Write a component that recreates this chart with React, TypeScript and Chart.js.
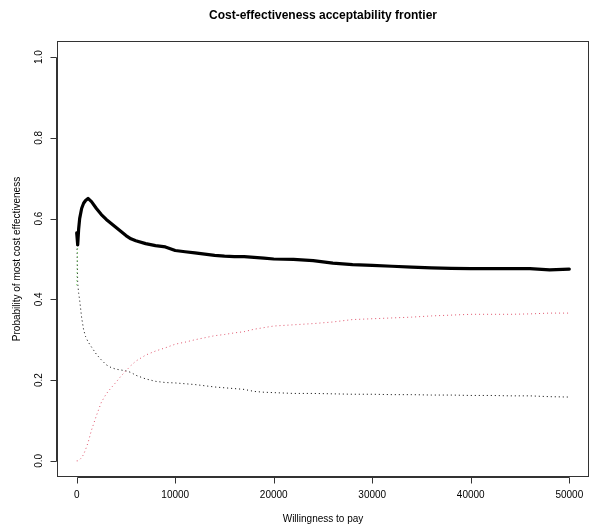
import { useEffect, useRef } from "react";
import { Chart, registerables } from "chart.js";

Chart.register(...registerables);

const wtp = [0, 100, 200, 300, 500, 700, 900, 1150, 1500, 2000, 2500, 3000, 3500, 4000, 4500, 5000, 5500, 6000, 7000, 8000, 9000, 10000, 11000, 12000, 13000, 14000, 15000, 16000, 17000, 18000, 19000, 20000, 22000, 24000, 26000, 28000, 30000, 32000, 34000, 36000, 38000, 40000, 42000, 44000, 46000, 48000, 50000];

const frontier = [0.565, 0.535, 0.575, 0.6, 0.625, 0.638, 0.645, 0.65, 0.642, 0.625, 0.61, 0.598, 0.588, 0.578, 0.568, 0.558, 0.55, 0.545, 0.538, 0.533, 0.53, 0.521, 0.518, 0.515, 0.512, 0.509, 0.507, 0.506, 0.506, 0.504, 0.502, 0.5, 0.499, 0.496, 0.49, 0.486, 0.484, 0.482, 0.48, 0.478, 0.477, 0.476, 0.476, 0.476, 0.476, 0.473, 0.475];

const probOption1 = [0.565, 0.44, 0.415, 0.398, 0.355, 0.325, 0.308, 0.295, 0.282, 0.264, 0.25, 0.238, 0.231, 0.227, 0.225, 0.223, 0.219, 0.212, 0.203, 0.197, 0.194, 0.193, 0.191, 0.189, 0.186, 0.183, 0.181, 0.179, 0.177, 0.172, 0.17, 0.169, 0.167, 0.167, 0.166, 0.165, 0.165, 0.164, 0.164, 0.163, 0.163, 0.162, 0.162, 0.161, 0.161, 0.159, 0.158];

const probOption2 = [0, 0, 0.002, 0.003, 0.008, 0.016, 0.028, 0.045, 0.076, 0.112, 0.145, 0.166, 0.181, 0.195, 0.21, 0.223, 0.236, 0.247, 0.262, 0.272, 0.28, 0.289, 0.294, 0.3, 0.305, 0.31, 0.313, 0.317, 0.32, 0.326, 0.33, 0.334, 0.337, 0.34, 0.344, 0.35, 0.352, 0.354, 0.356, 0.359, 0.361, 0.363, 0.363, 0.363, 0.364, 0.366, 0.366];

const probOption3 = [0.435, 0.535, 0.575, 0.6, 0.625, 0.638, 0.645, 0.65, 0.642, 0.625, 0.61, 0.598, 0.588, 0.578, 0.568, 0.558, 0.55, 0.545, 0.538, 0.533, 0.53, 0.521, 0.518, 0.515, 0.512, 0.509, 0.507, 0.506, 0.506, 0.504, 0.502, 0.5, 0.499, 0.496, 0.49, 0.486, 0.484, 0.482, 0.48, 0.478, 0.477, 0.476, 0.476, 0.476, 0.476, 0.473, 0.475];

const xTicks = [0, 10000, 20000, 30000, 40000, 50000];
const xTickLabels = ["0", "10000", "20000", "30000", "40000", "50000"];
const yTicks = [0, 0.2, 0.4, 0.6, 0.8, 1.0];
const yTickLabels = ["0.0", "0.2", "0.4", "0.6", "0.8", "1.0"];

const chartTitle = "Cost-effectiveness acceptability frontier";
const xTitle = "Willingness to pay";
const yTitle = "Probability of most cost effectiveness";

const FONT = "'Liberation Sans', Arial, Helvetica, sans-serif";

const toPoints = (ys: number[]) => wtp.map((x, i) => ({ x, y: ys[i] }));

const rAxesPlugin = {
  id: "rAxes",
  afterDraw(chart: any) {
    const { ctx, chartArea: a, scales } = chart;
    const xs = scales.x;
    const ys = scales.y;
    ctx.save();
    ctx.strokeStyle = "#333";
    ctx.lineWidth = 1;
    // box
    ctx.strokeRect(Math.round(a.left) + 0.5, Math.round(a.top) + 0.5, Math.round(a.right - a.left) - 1, Math.round(a.bottom - a.top) - 1);

    // x axis
    const yAx = Math.round(a.bottom) + 0.5;
    const x0 = Math.round(xs.getPixelForValue(xTicks[0])) + 0.5;
    const x1 = Math.round(xs.getPixelForValue(xTicks[xTicks.length - 1])) + 0.5;
    ctx.beginPath();
    ctx.moveTo(x0, yAx);
    ctx.lineTo(x1, yAx);
    xTicks.forEach((t) => {
      const px = Math.round(xs.getPixelForValue(t)) + 0.5;
      ctx.moveTo(px, yAx);
      ctx.lineTo(px, yAx + 6);
    });
    ctx.stroke();

    // y axis
    const xAx = Math.round(a.left) - 0.5;
    const ya = Math.round(ys.getPixelForValue(yTicks[0])) + 0.5;
    const yb = Math.round(ys.getPixelForValue(yTicks[yTicks.length - 1])) + 0.5;
    ctx.beginPath();
    ctx.moveTo(xAx, ya);
    ctx.lineTo(xAx, yb);
    yTicks.forEach((t) => {
      const py = Math.round(ys.getPixelForValue(t)) + 0.5;
      ctx.moveTo(xAx, py);
      ctx.lineTo(xAx - 6, py);
    });
    ctx.stroke();

    ctx.fillStyle = "#000";
    ctx.font = `10px ${FONT}`;
    ctx.textAlign = "center";
    ctx.textBaseline = "middle";
    xTicks.forEach((t, i) => {
      ctx.fillText(xTickLabels[i], xs.getPixelForValue(t), 495);
    });
    yTicks.forEach((t, i) => {
      ctx.save();
      ctx.translate(39.5, ys.getPixelForValue(t));
      ctx.rotate(-Math.PI / 2);
      ctx.fillText(yTickLabels[i], 0, 0);
      ctx.restore();
    });

    // axis titles
    const cx = (a.left + a.right) / 2;
    const cy = (a.top + a.bottom) / 2;
    ctx.fillText(xTitle, cx, 519);
    ctx.save();
    ctx.translate(17, cy);
    ctx.rotate(-Math.PI / 2);
    ctx.fillText(yTitle, 0, 0);
    ctx.restore();

    // main title
    ctx.font = `bold 12px ${FONT}`;
    ctx.fillText(chartTitle, cx, 16);
    ctx.restore();
  },
};

export default function App() {
  const ref = useRef<HTMLCanvasElement>(null);
  useEffect(() => {
    if (!ref.current) return;
    const chart = new Chart(ref.current, {
      type: "line",
      data: {
        datasets: [
          {
            label: "Frontier",
            data: toPoints(frontier),
            borderColor: "#000000",
            borderWidth: 3.2,
            pointRadius: 0,
            tension: 0,
            order: 0,
            borderCapStyle: "round",
            borderJoinStyle: "round",
          },
          {
            label: "Option 3",
            data: toPoints(probOption3),
            borderColor: "#61D04F",
            borderWidth: 1,
            borderDash: [1, 3],
            pointRadius: 0,
            tension: 0,
            order: 1,
          },
          {
            label: "Option 2",
            data: toPoints(probOption2),
            borderColor: "#DF536B",
            borderWidth: 1,
            borderDash: [1, 3],
            pointRadius: 0,
            tension: 0,
            order: 2,
          },
          {
            label: "Option 1",
            data: toPoints(probOption1),
            borderColor: "#000000",
            borderWidth: 1,
            borderDash: [1, 3],
            pointRadius: 0,
            tension: 0,
            order: 3,
          },
        ],
      },
      options: {
        animation: false,
        responsive: false,
        maintainAspectRatio: false,
        devicePixelRatio: 1,
        layout: { padding: { left: 57, top: 41, right: 1, bottom: 50 } },
        plugins: { legend: { display: false }, tooltip: { enabled: false }, title: { display: false } },
        scales: {
          x: { type: "linear", min: -2000, max: 52000, display: false },
          y: { type: "linear", min: -0.04, max: 1.04, display: false },
        },
      },
      plugins: [rAxesPlugin],
    });
    return () => chart.destroy();
  }, []);
  return (
    <div style={{ position: "absolute", left: 0, top: 0, width: 590, height: 527, background: "#fff" }}>
      <canvas ref={ref} width={590} height={527} style={{ width: 590, height: 527, display: "block" }} />
    </div>
  );
}
